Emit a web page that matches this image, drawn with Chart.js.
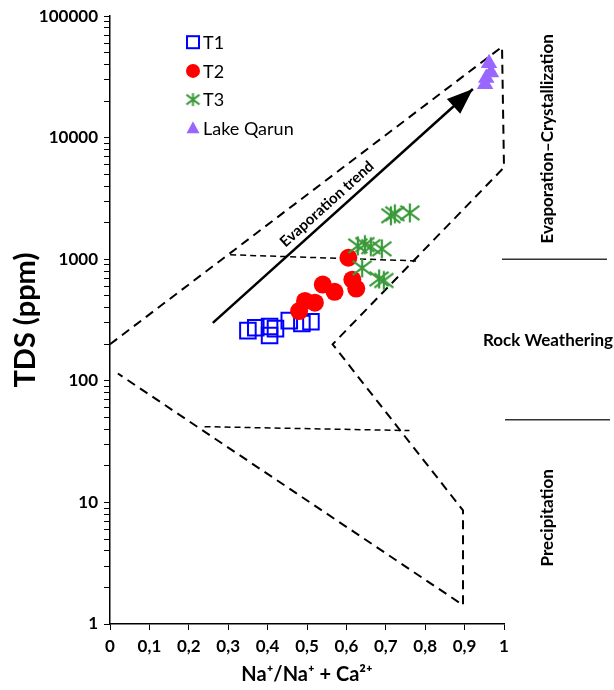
<!DOCTYPE html>
<html>
<head>
<meta charset="utf-8">
<title>Gibbs diagram</title>
<script src="https://cdn.jsdelivr.net/npm/chart.js@4.4.1/dist/chart.umd.min.js"></script>
<style>
  html, body { margin: 0; padding: 0; background: #fff; }
  #gibbsChart { display: block; }
</style>
</head>
<body>
<canvas id="gibbsChart" width="614" height="690"></canvas>
<script>
// Na+/(Na+ + Ca2+) ratio and TDS (ppm) for each sample group
const t1Ratio = [0.35, 0.37, 0.405, 0.42, 0.405, 0.455, 0.487, 0.51];
const t1Tds = [259, 274, 280, 269, 236, 313, 296, 307];

const t2Ratio = [0.48, 0.495, 0.52, 0.54, 0.57, 0.605, 0.615, 0.625];
const t2Tds = [375, 455, 440, 620, 540, 1030, 680, 575];

const t3Ratio = [0.713, 0.723, 0.761, 0.629, 0.647, 0.662, 0.69, 0.64, 0.683, 0.695];
const t3Tds = [2280, 2370, 2410, 1290, 1320, 1270, 1220, 850, 690, 670];

const qarunRatio = [0.962, 0.967, 0.955, 0.952];
const qarunTds = [41000, 34500, 31000, 27500];

// Gibbs envelope and the two dividing lines
const envelopeRatio = [0, 0.995, 1.0, 0.565, 0.896, 0.896, 0.02];
const envelopeTds = [200, 56000, 5700, 200, 8.6, 1.43, 115];
const upperDivRatio = [0.305, 0.78];
const upperDivTds = [1090, 970];
const lowerDivRatio = [0.24, 0.76];
const lowerDivTds = [42, 39];

// evaporation trend arrow: start, tip
const trendRatio = [0.261, 0.921];
const trendTds = [300, 25200];

const xTicks = [0, 0.1, 0.2, 0.3, 0.4, 0.5, 0.6, 0.7, 0.8, 0.9, 1];
const yDecades = [1, 10, 100, 1000, 10000, 100000];

const FONT = "Lato, 'DejaVu Sans', sans-serif";
const BLUE = "#0000ff", RED = "#ff0000", GREEN = "#3a9a3a", PURPLE = "#9966ff";

const pts = (xs, ys) => xs.map((x, i) => ({ x: x, y: ys[i] }));

// asterisk marker (vertical stroke + cross)
function asterisk(size, color, width) {
  const c = document.createElement("canvas");
  const s = Math.ceil(size + width * 2);
  c.width = s; c.height = s;
  const g = c.getContext("2d");
  const m = s / 2, r = size / 2;
  g.strokeStyle = color;
  g.lineWidth = width;
  g.beginPath();
  g.moveTo(m, m - r); g.lineTo(m, m + r);
  g.moveTo(m - r, m - r * 0.75); g.lineTo(m + r, m + r * 0.75);
  g.moveTo(m + r, m - r * 0.75); g.lineTo(m - r, m + r * 0.75);
  g.stroke();
  return c;
}
const starBig = asterisk(19, GREEN, 2.2);
const starSmall = asterisk(13, GREEN, 2);

// every 1..9 step of each decade, labels only on the decades
function logTicks() {
  const out = [];
  yDecades.forEach((d, i) => {
    if (i === yDecades.length - 1) { out.push({ value: d }); return; }
    for (let m = 1; m < 10; m++) out.push({ value: m * d });
  });
  return out;
}

const notes = {
  id: "gibbsNotes",
  afterDatasetsDraw(chart) {
    const { ctx, chartArea: area, scales: { x, y } } = chart;
    ctx.save();

    // arrow head + label
    const x0 = x.getPixelForValue(trendRatio[0]), y0 = y.getPixelForValue(trendTds[0]);
    const x1 = x.getPixelForValue(trendRatio[1]), y1 = y.getPixelForValue(trendTds[1]);
    const ang = Math.atan2(y1 - y0, x1 - x0);
    const c = Math.cos(ang), s = Math.sin(ang);
    const len = 26, half = 10;
    ctx.fillStyle = "#000";
    ctx.beginPath();
    ctx.moveTo(x1, y1);
    ctx.lineTo(x1 - len * c - half * s, y1 - len * s + half * c);
    ctx.lineTo(x1 - len * c + half * s, y1 - len * s - half * c);
    ctx.closePath();
    ctx.fill();

    const L = Math.hypot(x1 - x0, y1 - y0);
    const lx = x0 + 0.47 * L * c + 12 * s, ly = y0 + 0.47 * L * s - 12 * c;
    ctx.translate(lx, ly);
    ctx.rotate(ang);
    ctx.font = "bold 15px " + FONT;
    ctx.textAlign = "center";
    ctx.textBaseline = "middle";
    ctx.fillText("Evaporation trend", 0, 0);
    ctx.setTransform(1, 0, 0, 1, 0, 0);

    // zone captions at the right
    const cx = area.right + 44;
    const yHigh = y.getPixelForValue(1000), yLow = y.getPixelForValue(48);
    ctx.strokeStyle = "#333";
    ctx.lineWidth = 1.5;
    ctx.beginPath();
    ctx.moveTo(area.right - 2, yHigh); ctx.lineTo(area.right + 103, yHigh);
    ctx.moveTo(area.right + 1, yLow); ctx.lineTo(area.right + 106, yLow);
    ctx.stroke();

    ctx.font = "bold 17px " + FONT;
    ctx.fillStyle = "#000";
    ctx.fillText("Rock Weathering", cx, (yHigh + yLow) / 2 + 1);
    ctx.save();
    ctx.translate(cx, (area.top + yHigh) / 2 + 1);
    ctx.rotate(-Math.PI / 2);
    ctx.fillText("Evaporation\u2013Crystallization", 0, 0);
    ctx.restore();
    ctx.save();
    ctx.translate(cx, (yLow + area.bottom) / 2 - 4);
    ctx.rotate(-Math.PI / 2);
    ctx.fillText("Precipitation", 0, 0);
    ctx.restore();

    // legend
    const lx0 = area.left + 83, ly0 = area.top + 26, step = 28.7;
    const rows = [
      ["T1", (px, py) => { ctx.strokeStyle = BLUE; ctx.lineWidth = 2; ctx.strokeRect(px - 6, py - 6, 12, 12); }],
      ["T2", (px, py) => { ctx.fillStyle = RED; ctx.beginPath(); ctx.arc(px, py, 7, 0, Math.PI * 2); ctx.fill(); }],
      ["T3", (px, py) => { ctx.drawImage(starSmall, px - starSmall.width / 2, py - starSmall.height / 2); }],
      ["Lake Qarun", (px, py) => {
        ctx.fillStyle = PURPLE; ctx.beginPath();
        ctx.moveTo(px, py - 7); ctx.lineTo(px + 6.5, py + 5); ctx.lineTo(px - 6.5, py + 5);
        ctx.closePath(); ctx.fill();
      }]
    ];
    ctx.font = "18px " + FONT;
    ctx.textAlign = "left";
    rows.forEach(([label, mark], i) => {
      const py = ly0 + i * step;
      mark(lx0, py);
      ctx.fillStyle = "#000";
      ctx.fillText(label, lx0 + 10, py + 1);
    });

    ctx.restore();
  }
};

const dashed = (xs, ys, dash, width) => ({
  data: pts(xs, ys),
  showLine: true,
  borderColor: "#000",
  borderWidth: width,
  borderDash: dash,
  pointRadius: 0,
  fill: false,
  tension: 0,
  clip: false,
  order: 10
});

new Chart(document.getElementById("gibbsChart"), {
  type: "scatter",
  data: {
    datasets: [
      { label: "T1", data: pts(t1Ratio, t1Tds), pointStyle: "rect", pointRadius: 11,
        borderColor: BLUE, backgroundColor: "rgba(0,0,0,0)", borderWidth: 2, order: 4 },
      { label: "T2", data: pts(t2Ratio, t2Tds), pointStyle: "circle", pointRadius: 9,
        borderColor: RED, backgroundColor: RED, borderWidth: 0, order: 3 },
      { label: "T3", data: pts(t3Ratio, t3Tds), pointStyle: starBig, pointRadius: 10,
        borderColor: GREEN, backgroundColor: GREEN, order: 2 },
      { label: "Lake Qarun", data: pts(qarunRatio, qarunTds), pointStyle: "triangle", pointRadius: 9.5,
        borderColor: PURPLE, backgroundColor: PURPLE, borderWidth: 0, order: 1 },
      Object.assign(dashed(envelopeRatio, envelopeTds, [9, 6], 2), { label: "envelope" }),
      Object.assign(dashed(upperDivRatio, upperDivTds, [6, 4], 1.5), { label: "upper divide" }),
      Object.assign(dashed(lowerDivRatio, lowerDivTds, [6, 4], 1.5), { label: "lower divide" }),
      Object.assign(dashed(trendRatio, trendTds, [], 2.5), { label: "trend", order: 9 })
    ]
  },
  options: {
    responsive: false,
    animation: false,
    layout: { padding: { top: 15, right: 110, left: 0, bottom: 0 } },
    plugins: { legend: { display: false }, tooltip: { enabled: false } },
    scales: {
      x: {
        type: "linear",
        min: 0,
        max: 1,
        afterBuildTicks: s => { s.ticks = xTicks.map(v => ({ value: v })); },
        afterFit: s => { s.height = 66; },
        ticks: {
          autoSkip: false,
          maxRotation: 0,
          padding: 6,
          color: "#000",
          font: { family: FONT, size: 17, weight: "bold" },
          callback: v => Number.isInteger(v) ? String(v) : v.toFixed(1).replace(".", ",")
        },
        grid: { drawOnChartArea: false, drawTicks: true, tickLength: 6, color: "#000" },
        border: { display: true, color: "#000", width: 1.5 },
        title: {
          display: true,
          text: "Na\u207A/Na\u207A + Ca\u00B2\u207A",
          color: "#000",
          font: { family: FONT, size: 20, weight: "bold" },
          padding: { top: 0, bottom: 3 }
        }
      },
      y: {
        type: "logarithmic",
        min: 1,
        max: 100000,
        afterBuildTicks: s => { s.ticks = logTicks(); },
        afterFit: s => { s.width = 110; },
        ticks: {
          autoSkip: false,
          padding: 6,
          color: "#000",
          font: { family: FONT, size: 17, weight: "bold" },
          callback: v => yDecades.includes(v) ? String(v) : ""
        },
        grid: { drawOnChartArea: false, drawTicks: true, tickLength: 6, color: "#000" },
        border: { display: true, color: "#000", width: 1.5 },
        title: {
          display: true,
          text: "TDS (ppm)",
          color: "#000",
          font: { family: FONT, size: 29, weight: "bold" },
          padding: { top: 8, bottom: 0 }
        }
      }
    }
  },
  plugins: [notes]
});
</script>
</body>
</html>
